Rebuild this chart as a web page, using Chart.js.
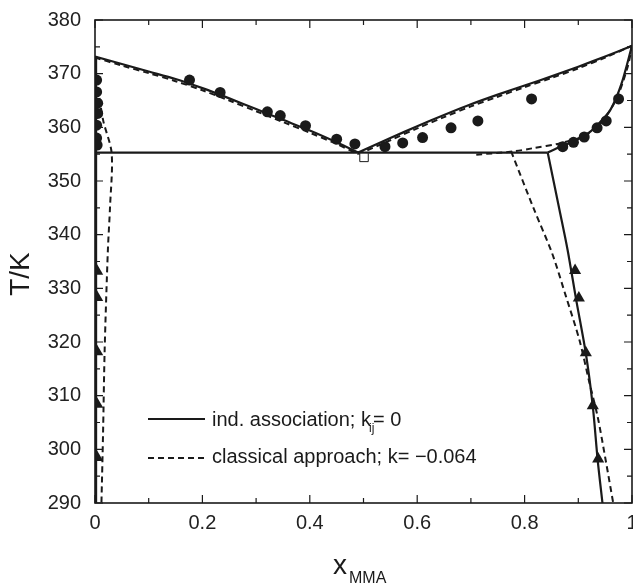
<!DOCTYPE html>
<html>
<head>
<meta charset="utf-8">
<script src="https://cdn.jsdelivr.net/npm/chart.js@4.4.1/dist/chart.umd.min.js"></script>
<style>
  body { margin: 0; background: #fff; }
  #wrap { width: 633px; height: 584px; }
</style>
</head>
<body>
<div id="wrap"><canvas id="grafico" width="633" height="584"></canvas></div>
<script>
const circleX = [0.003, 0.003, 0.005, 0.005, 0.003, 0.003, 0.004, 0.176, 0.233, 0.321, 0.345, 0.392, 0.450, 0.484, 0.540, 0.573, 0.610, 0.663, 0.713, 0.813, 0.871, 0.891, 0.911, 0.935, 0.952, 0.975];
const circleT = [368.8, 366.6, 364.5, 362.6, 360.4, 358.0, 356.7, 368.8, 366.5, 362.9, 362.2, 360.3, 357.8, 356.9, 356.4, 357.1, 358.1, 359.9, 361.2, 365.3, 356.4, 357.2, 358.2, 359.9, 361.2, 365.3];
const triX = [0.004, 0.004, 0.004, 0.004, 0.004, 0.894, 0.901, 0.914, 0.927, 0.937];
const triT = [333.2, 328.3, 318.2, 308.4, 298.5, 333.3, 328.2, 318.0, 308.1, 298.2];
const azeoX = [0.501];
const azeoT = [354.4];

// ind. association (solid)
const assocBubbleLX = [0, 0.05, 0.1, 0.15, 0.2, 0.25, 0.3, 0.35, 0.4, 0.45, 0.49];
const assocBubbleLT = [373.2, 371.8, 370.4, 369.0, 367.3, 365.4, 363.4, 361.4, 359.4, 357.2, 355.3];
const assocDewX = [0.49, 0.55, 0.6, 0.65, 0.7, 0.75, 0.8, 0.85, 0.9, 0.95, 1];
const assocDewT = [355.3, 358.0, 360.2, 362.3, 364.3, 366.1, 367.8, 369.5, 371.3, 373.2, 375.2];
const assocThreeX = [0, 0.843];
const assocThreeT = [355.3, 355.3];
const assocBubbleRX = [0.843, 0.86, 0.88, 0.9, 0.92, 0.94, 0.96, 0.98, 1];
const assocBubbleRT = [355.3, 356.1, 356.9, 357.8, 359.0, 360.9, 363.3, 368.0, 375.2];
const assocLleRX = [0.843, 0.865, 0.880, 0.896, 0.914, 0.927, 0.936, 0.945];
const assocLleRT = [355.3, 344.6, 337.2, 327.9, 317.9, 308.0, 298.1, 290];
const assocLleLX = [0.002, 0.002];
const assocLleLT = [373.2, 290];

// classical approach (dashed)
const classBubbleLX = [0, 0.05, 0.1, 0.15, 0.2, 0.25, 0.3, 0.35, 0.4, 0.45, 0.49];
const classBubbleLT = [373.0, 371.5, 370.1, 368.6, 366.9, 365.0, 363.0, 361.0, 359.0, 356.9, 355.0];
const classDewX = [0.49, 0.55, 0.6, 0.65, 0.7, 0.75, 0.8, 0.85, 0.9, 0.95, 1];
const classDewT = [355.0, 357.6, 359.8, 361.9, 363.9, 365.7, 367.5, 369.2, 371.0, 373.0, 375.2];
const classBubbleRX = [0.71, 0.778, 0.815, 0.865, 0.908, 0.939, 0.97, 0.992, 1];
const classBubbleRT = [354.9, 355.5, 356.1, 357.0, 358.3, 360.4, 365.1, 371.3, 375.2];
const classLleRX = [0.775, 0.818, 0.851, 0.877, 0.902, 0.921, 0.936, 0.952, 0.965];
const classLleRT = [355.5, 344.6, 336.6, 328.5, 320.4, 312.3, 306.1, 297.4, 290];
const classLleLX = [0, 0.015, 0.031, 0.028, 0.024, 0.018, 0.015, 0.012];
const classLleLT = [371.0, 361.4, 355.2, 345.2, 337.2, 318.6, 303.0, 290];

// axis ranges
const xRange = [0, 1];
const yRange = [290, 380];

const FONT = '"Liberation Sans", Arial, Helvetica, sans-serif';
const INK = '#1a1a1a';

function pts(xs, ys) {
  return xs.map((x, i) => ({ x: x, y: ys[i] }));
}

function solid(xs, ys) {
  return { data: pts(xs, ys), showLine: true, borderColor: INK, borderWidth: 2.2, pointRadius: 0, tension: 0.3, order: 3 };
}
function dashed(xs, ys) {
  return { data: pts(xs, ys), showLine: true, borderColor: INK, borderWidth: 2, borderDash: [6, 4], pointRadius: 0, tension: 0.3, order: 4 };
}

// frame with inward ticks on all four sides
const framePlugin = {
  id: 'frame',
  afterDatasetsDraw(chart) {
    const { ctx, chartArea: a, scales } = chart;
    ctx.save();
    ctx.strokeStyle = INK;
    ctx.lineWidth = 1.2;
    scales.x.ticks.forEach(t => {
      const px = scales.x.getPixelForValue(t.value);
      const len = Math.round(t.value * 10) % 2 === 0 ? 8 : 5;
      ctx.beginPath();
      ctx.moveTo(px, a.bottom); ctx.lineTo(px, a.bottom - len);
      ctx.moveTo(px, a.top); ctx.lineTo(px, a.top + len);
      ctx.stroke();
    });
    scales.y.ticks.forEach(t => {
      const py = scales.y.getPixelForValue(t.value);
      const len = t.value % 10 === 0 ? 8 : 5;
      ctx.beginPath();
      ctx.moveTo(a.left, py); ctx.lineTo(a.left + len, py);
      ctx.moveTo(a.right, py); ctx.lineTo(a.right - len, py);
      ctx.stroke();
    });
    ctx.lineWidth = 1.6;
    ctx.strokeRect(a.left, a.top, a.right - a.left, a.bottom - a.top);
    ctx.restore();
  }
};

// axis titles and the legend (subscripts need hand drawing)
const textPlugin = {
  id: 'texts',
  afterDraw(chart) {
    const ctx = chart.ctx;
    ctx.save();
    ctx.fillStyle = INK;
    ctx.textBaseline = 'alphabetic';

    // y title
    ctx.save();
    ctx.translate(29, 274);
    ctx.rotate(-Math.PI / 2);
    ctx.font = '28px ' + FONT;
    ctx.textAlign = 'center';
    ctx.fillText('T/K', 0, 0);
    ctx.restore();

    // x title
    ctx.font = '28px ' + FONT;
    ctx.textAlign = 'left';
    ctx.fillText('x', 333, 574);
    ctx.font = '16px ' + FONT;
    ctx.fillText('MMA', 349, 583);

    // legend
    ctx.strokeStyle = INK;
    ctx.lineWidth = 2.2;
    ctx.beginPath(); ctx.moveTo(148, 419); ctx.lineTo(205, 419); ctx.stroke();
    ctx.lineWidth = 2;
    ctx.setLineDash([6, 4]);
    ctx.beginPath(); ctx.moveTo(148, 458); ctx.lineTo(205, 458); ctx.stroke();
    ctx.setLineDash([]);

    ctx.font = '20px ' + FONT;
    const s1 = 'ind. association; k';
    ctx.fillText(s1, 212, 426);
    const w1 = ctx.measureText(s1).width;
    ctx.font = '12px ' + FONT;
    ctx.fillText('ij', 212 + w1 - 2, 432);
    ctx.font = '20px ' + FONT;
    ctx.fillText('= 0', 212 + w1 + 2, 426);
    ctx.fillText('classical approach; k= \u22120.064', 212, 463);
    ctx.restore();
  }
};

const ctx = document.getElementById('grafico').getContext('2d');
const grafico = new Chart(ctx, {
  type: 'scatter',
  data: {
    datasets: [
      solid(assocBubbleLX, assocBubbleLT),
      solid(assocDewX, assocDewT),
      solid(assocThreeX, assocThreeT),
      solid(assocBubbleRX, assocBubbleRT),
      solid(assocLleRX, assocLleRT),
      solid(assocLleLX, assocLleLT),
      dashed(classBubbleLX, classBubbleLT),
      dashed(classDewX, classDewT),
      dashed(classBubbleRX, classBubbleRT),
      dashed(classLleRX, classLleRT),
      dashed(classLleLX, classLleLT),
      { data: pts(circleX, circleT), pointStyle: 'circle', pointRadius: 5.5, backgroundColor: INK, borderColor: INK, borderWidth: 0, order: 1 },
      { data: pts(triX, triT), pointStyle: 'triangle', pointRadius: 7, backgroundColor: INK, borderColor: INK, borderWidth: 0, order: 1 },
      { data: pts(azeoX, azeoT), pointStyle: 'rect', pointRadius: 6, backgroundColor: '#fff', borderColor: INK, borderWidth: 1, order: 0 }
    ]
  },
  options: {
    responsive: false,
    animation: false,
    layout: { padding: { top: 20, right: 1, bottom: 0, left: 0 }, autoPadding: false },
    plugins: {
      legend: { display: false },
      tooltip: { enabled: false }
    },
    scales: {
      x: {
        type: 'linear',
        min: xRange[0],
        max: xRange[1],
        grid: { display: false, drawTicks: false },
        border: { display: false },
        ticks: {
          stepSize: 0.1,
          autoSkip: false,
          maxRotation: 0,
          padding: 8,
          color: '#222',
          font: { family: FONT, size: 20 },
          callback: v => {
            const r = Math.round(v * 10);
            return r % 2 === 0 ? String(r / 10) : '';
          }
        },
        afterFit: s => {
          s.height = 81;
          s.paddingLeft = 0; s.paddingRight = 0; s.paddingTop = 0; s.paddingBottom = 0;
        }
      },
      y: {
        type: 'linear',
        min: yRange[0],
        max: yRange[1],
        grid: { display: false, drawTicks: false },
        border: { display: false },
        ticks: {
          stepSize: 5,
          autoSkip: false,
          padding: 14,
          color: '#222',
          font: { family: FONT, size: 20 },
          callback: v => (v % 10 === 0 ? v : '')
        },
        afterFit: s => {
          s.width = 95;
          s.paddingLeft = 0; s.paddingRight = 0; s.paddingTop = 0; s.paddingBottom = 0;
        }
      }
    }
  },
  plugins: [framePlugin, textPlugin]
});
</script>
</body>
</html>
